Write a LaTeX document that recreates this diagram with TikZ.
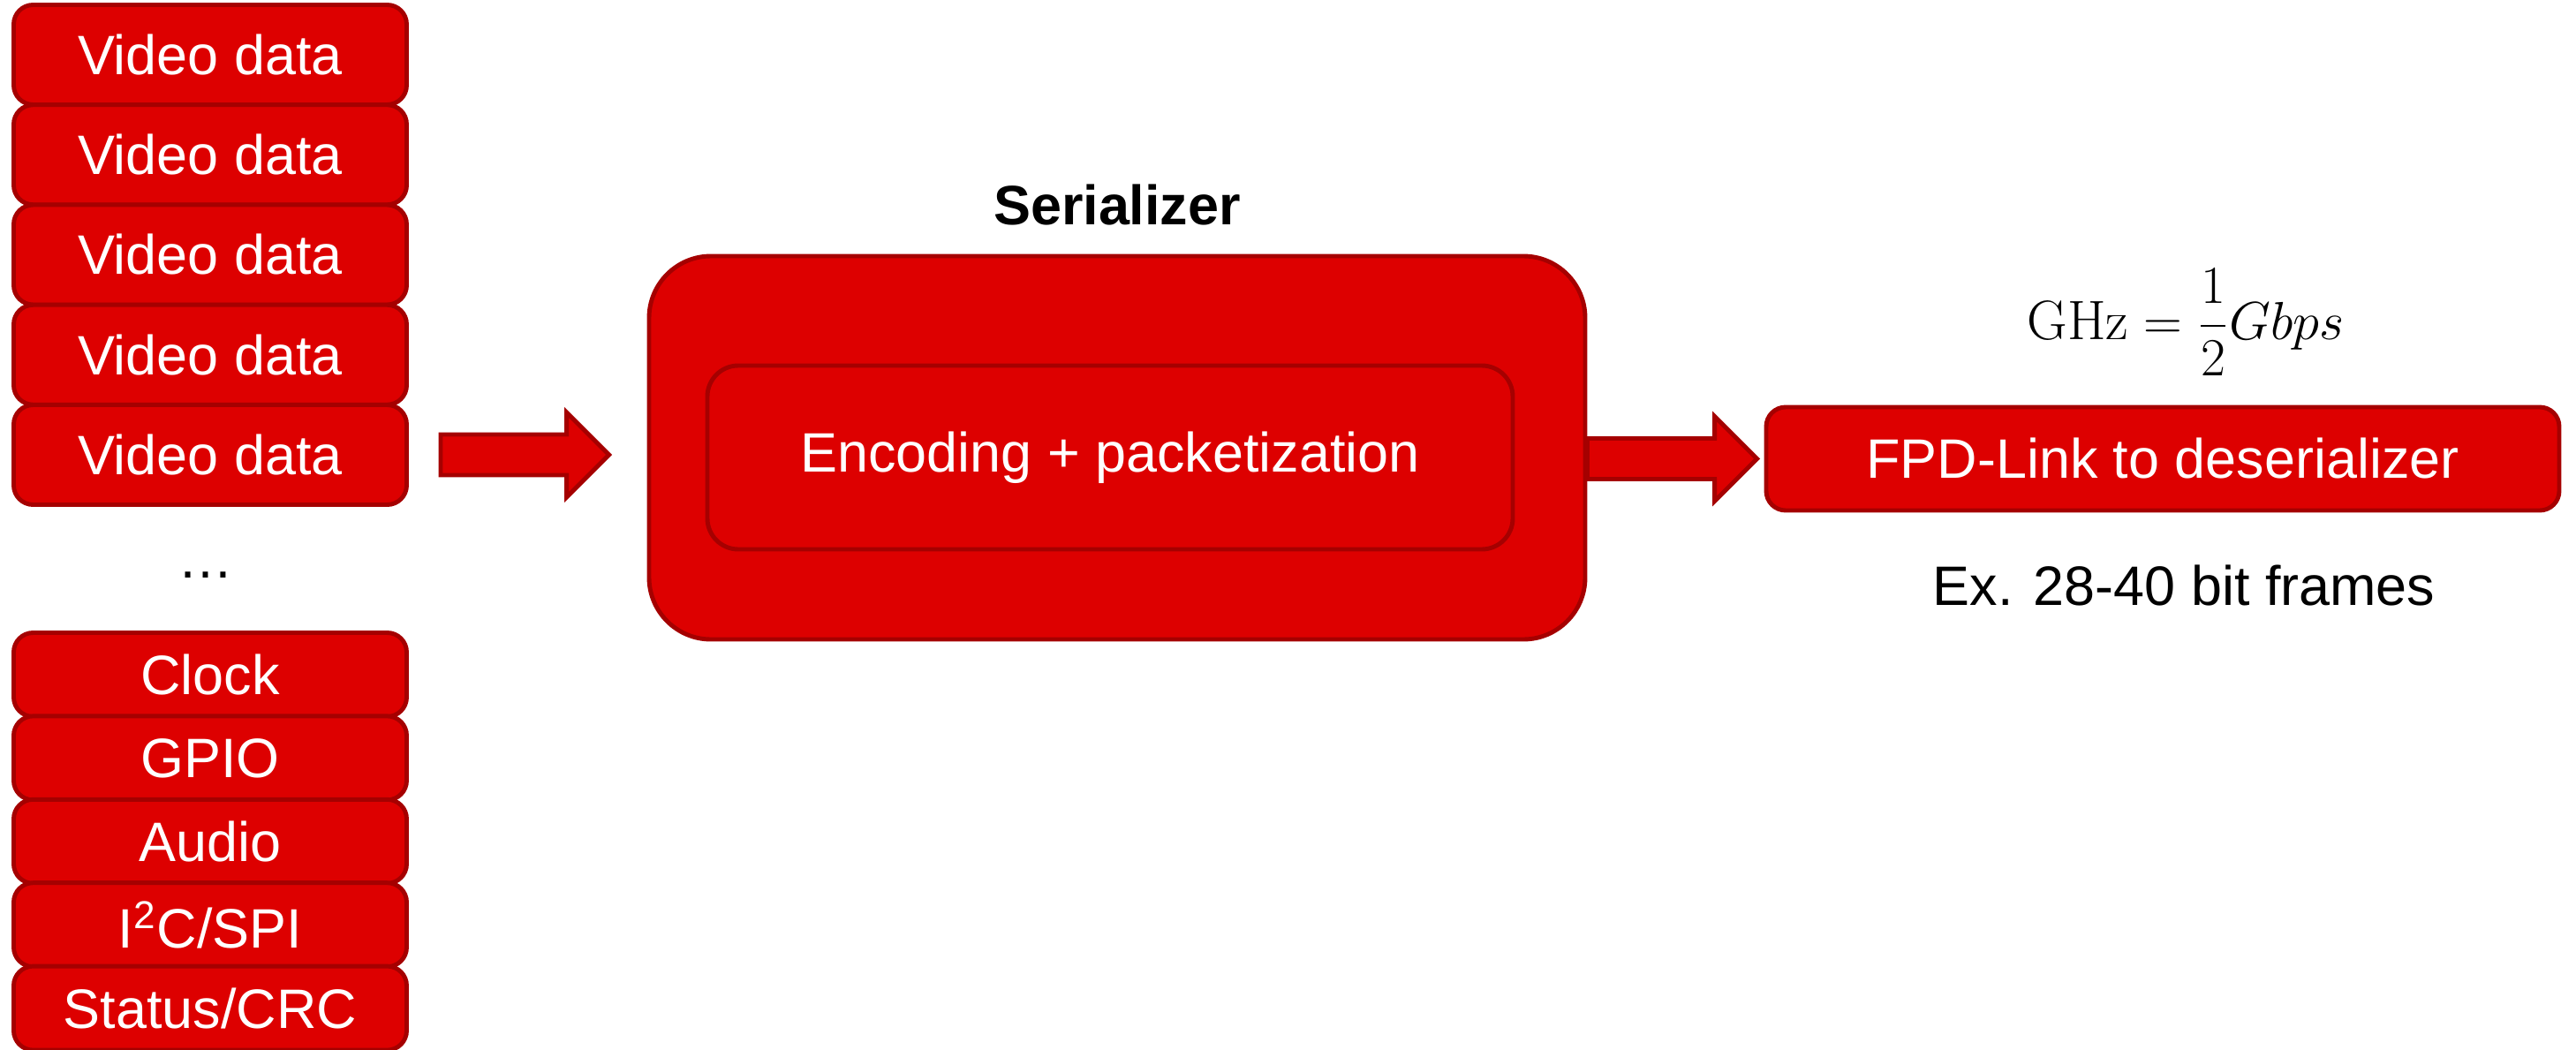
\documentclass[tikz,border=0pt]{standalone}
\usepackage{fontspec}
\setmainfont{Liberation Sans}
\newfontfamily\lmroman{Latin Modern Roman}
\usetikzlibrary{positioning,calc}
\definecolor{tired}{RGB}{221,0,0}
\definecolor{tidark}{RGB}{165,0,0}
\tikzset{
	redbox/.style={draw=tidark,fill=tired,line width=1.4pt,text=white,rounded corners=0.22cm,inner sep=0pt},
	databox/.style={redbox,minimum width=4.45cm,minimum height=1.13cm},
	ctrlbox/.style={redbox,minimum width=4.45cm,minimum height=0.95cm},
	fatarrow/.style={draw=tidark,fill=tired,line width=1.4pt,line join=miter}
}
% block arrow from #1 to #2 (same height)
\newcommand{\fatarrow}[2]{%
	\draw[fatarrow] let \p1=(#1),\p2=(#2) in
	(\x1,\y1+0.23cm) -- (\x2-0.48cm,\y1+0.23cm) -- (\x2-0.48cm,\y1+0.48cm) -- (\x2,\y1)
	-- (\x2-0.48cm,\y1-0.48cm) -- (\x2-0.48cm,\y1-0.23cm) -- (\x1,\y1-0.23cm) -- cycle;}
\begin{document}
\begin{tikzpicture}[font=\fontsize{17.9}{21}\selectfont]
			\useasboundingbox (0,0) rectangle (29.17,11.88);
			% words going in
			\foreach \i in {1,...,5}
				\node[databox] (v\i) at (2.38,{11.26-1.1325*(\i-1)}) {Video data};
			\node (dots) at (2.33,5.37) {…};
			\foreach \t [count=\i] in {Clock,GPIO,Audio,I\textsuperscript{2}C/SPI,Status/CRC}
				\node[ctrlbox] (c\i) at (2.38,{4.24-0.944*(\i-1)}) {\t};
			% serializer
			\node[redbox,rounded corners=0.7cm,minimum width=10.6cm,minimum height=4.34cm] (ser) at (12.65,6.81) {};
			\node[redbox,rounded corners=0.35cm,minimum width=9.12cm,minimum height=2.08cm] (enc) at (12.57,6.70) {Encoding + packetization};
			\node[font=\fontsize{17.9}{21}\selectfont\bfseries] (sertitle) at (12.65,9.56) {Serializer};
			% link
			\node[redbox,minimum width=8.98cm,minimum height=1.17cm] (fpd) at (24.49,6.685) {FPD-Link to deserializer};
			\node (rate) at (24.75,8.23) {$\displaystyle\mbox{\lmroman GHz}=\frac{1}{2}Gbps$};
			\node (frames) at (24.73,5.25) {Ex. 28-40 bit frames};
			% arrows
			\coordinate (ain0) at ([xshift=0.36cm]v5.east);
			\coordinate (ain1) at ([xshift=-0.43cm]v5.east -| ser.west);
			\fatarrow{ain0}{ain1}
			\coordinate (aout0) at (ser.east |- fpd.west);
			\coordinate (aout1) at ([xshift=-0.08cm]fpd.west);
			\fatarrow{aout0}{aout1}
\end{tikzpicture}
\end{document}
